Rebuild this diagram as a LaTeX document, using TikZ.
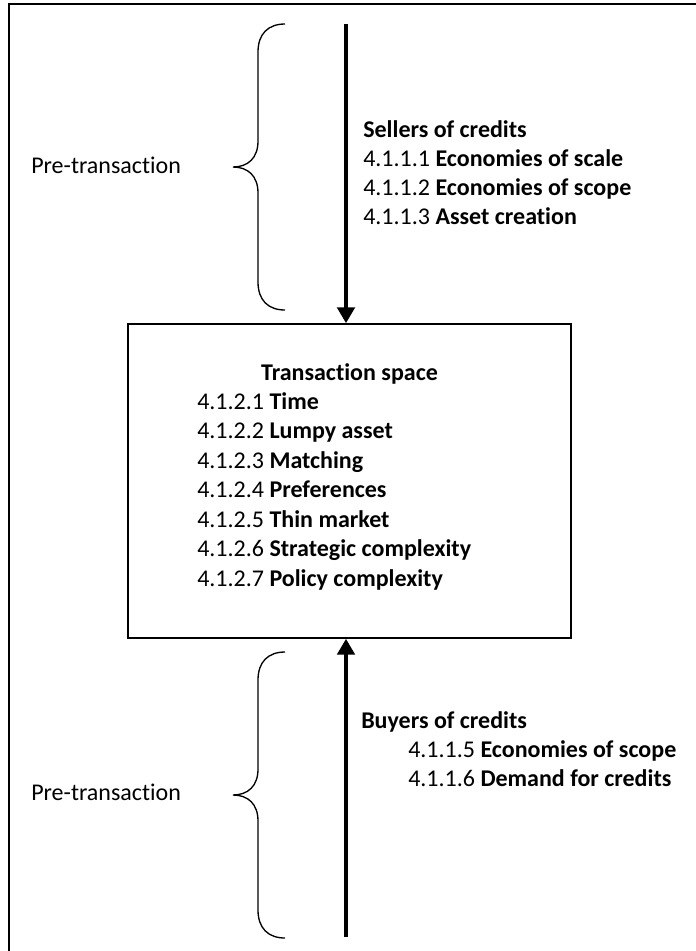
\documentclass[tikz,border=0pt]{standalone}
\usepackage{fontspec}
\setmainfont[Ligatures={NoCommon,NoContextual}]{Carlito}
\usetikzlibrary{arrows.meta}
\begin{document}
\begin{tikzpicture}[x=0.75pt,y=-0.75pt,
  txt/.style={anchor=base west, inner sep=0pt, font=\fontsize{18}{22}\selectfont},
  ctxt/.style={anchor=base, inner sep=0pt, font=\fontsize{18}{22}\selectfont},
  arr/.style={line width=3.4pt, -{Triangle[length=12pt,width=13pt]}},
  bracestyle/.style={line width=1pt},
  framestyle/.style={line width=1.5pt},
  boxstyle/.style={draw, line width=1.1pt, inner sep=0pt, minimum width=332.25pt, minimum height=235.5pt}]
\useasboundingbox (0,0) rectangle (696,951);
% outer frame (open on the right and bottom)
\draw[framestyle] (9,951) -- (9,4) -- (696,4);
% transaction box
\node[boxstyle] (box) at (349.5,481) {};
% arrows
\coordinate (s1) at (346,24);
\coordinate (b1) at (346,937);
\draw[arr] (s1) -- (s1 |- box.north);
\draw[arr] (b1) -- (b1 |- box.south);
% braces
\draw[bracestyle] (285,24) .. controls (268,24) and (258,34) .. (258,52) -- (258,141)
  .. controls (258,158) and (248,167) .. (233,167)
  .. controls (248,167) and (258,176) .. (258,193) -- (258,282)
  .. controls (258,300) and (268,310) .. (285,310);
\begin{scope}[shift={(0,628)}]
\draw[bracestyle] (285,24) .. controls (268,24) and (258,34) .. (258,52) -- (258,141)
  .. controls (258,158) and (248,167) .. (233,167)
  .. controls (248,167) and (258,176) .. (258,193) -- (258,282)
  .. controls (258,300) and (268,310) .. (285,310);
\end{scope}
% labels
\node[txt] (pre1) at (31,173) {Pre-transaction};
\node[txt] (pre2) at (31,800) {Pre-transaction};
% sellers
\node[txt] (sel0) at (363,137) {\textbf{Sellers of credits}};
\node[txt] (sel1) at (363,166) {4.1.1.1 \textbf{Economies of scale}};
\node[txt] (sel2) at (363,195) {4.1.1.2 \textbf{Economies of scope}};
\node[txt] (sel3) at (363,224) {4.1.1.3 \textbf{Asset creation}};
% transaction space
\node[ctxt] (ts) at (349.5,380) {\textbf{Transaction space}};
\node[txt] (t1) at (197,409) {4.1.2.1 \textbf{Time}};
\node[txt] (t2) at (197,438.5) {4.1.2.2 \textbf{Lumpy asset}};
\node[txt] (t3) at (197,468) {4.1.2.3 \textbf{Matching}};
\node[txt] (t4) at (197,497.5) {4.1.2.4 \textbf{Preferences}};
\node[txt] (t5) at (197,527) {4.1.2.5 \textbf{Thin market}};
\node[txt] (t6) at (197,556.5) {4.1.2.6 \textbf{Strategic complexity}};
\node[txt] (t7) at (197,586) {4.1.2.7 \textbf{Policy complexity}};
% buyers
\node[txt] (buy0) at (361,728) {\textbf{Buyers of credits}};
\node[txt] (buy1) at (408,757) {4.1.1.5 \textbf{Economies of scope}};
\node[txt] (buy2) at (408,786) {4.1.1.6 \textbf{Demand for credits}};
\end{tikzpicture}
\end{document}
